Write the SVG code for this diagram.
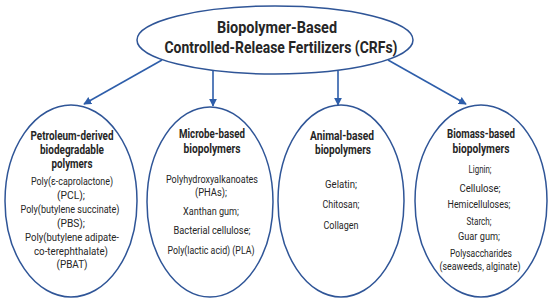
<svg xmlns="http://www.w3.org/2000/svg" width="550" height="302" viewBox="0 0 550 302">
<defs>
<style>
.node{fill:#fff;stroke:#2F5597;stroke-width:1.5}
.t{font-family:"Roboto","Liberation Sans",sans-serif;fill:#262626;text-anchor:middle}
.h{font-weight:bold;font-size:12.5px}
.b{font-size:11.5px}
.title{font-weight:bold;font-size:16.5px}
.conn{stroke:#2E5EAA;stroke-width:1.6;fill:none;marker-end:url(#ah)}
</style>
<marker id="ah" viewBox="0 0 10 10" refX="9" refY="5" markerWidth="5" markerHeight="5" orient="auto" markerUnits="strokeWidth">
<path d="M0,0 L10,5 L0,10 z" fill="#2E5EAA"/>
</marker>
</defs>
<rect width="550" height="302" fill="#fff"/>
<g id="connectors">
<line class="conn" x1="162" y1="60" x2="84" y2="104"/>
<line class="conn" x1="213" y1="71" x2="213" y2="106"/>
<line class="conn" x1="338" y1="71" x2="338" y2="105"/>
<line class="conn" x1="388" y1="60" x2="466" y2="104"/>
</g>
<g id="root">
<ellipse class="node" cx="275" cy="40" rx="138" ry="34"/>
<text class="t title" x="277" y="33" textLength="120" lengthAdjust="spacingAndGlyphs">Biopolymer-Based</text>
<text class="t title" x="281" y="53" textLength="233" lengthAdjust="spacingAndGlyphs">Controlled-Release Fertilizers (CRFs)</text>
</g>
<g id="petroleum">
<ellipse class="node" cx="71" cy="201" rx="66" ry="96"/>
<text class="t h" x="72" y="140" textLength="83" lengthAdjust="spacingAndGlyphs">Petroleum-derived</text>
<text class="t h" x="72" y="154" textLength="64" lengthAdjust="spacingAndGlyphs">biodegradable</text>
<text class="t h" x="72" y="168" textLength="41" lengthAdjust="spacingAndGlyphs">polymers</text>
<text class="t b" x="72" y="185" textLength="82" lengthAdjust="spacingAndGlyphs">Poly(ε-caprolactone)</text>
<text class="t b" x="71" y="199" textLength="28" lengthAdjust="spacingAndGlyphs">(PCL);</text>
<text class="t b" x="70" y="213" textLength="99" lengthAdjust="spacingAndGlyphs">Poly(butylene succinate)</text>
<text class="t b" x="71" y="227" textLength="28" lengthAdjust="spacingAndGlyphs">(PBS);</text>
<text class="t b" x="72" y="241" textLength="94" lengthAdjust="spacingAndGlyphs">Poly(butylene adipate-</text>
<text class="t b" x="71" y="255" textLength="74" lengthAdjust="spacingAndGlyphs">co-terephthalate)</text>
<text class="t b" x="72" y="268" textLength="31" lengthAdjust="spacingAndGlyphs">(PBAT)</text>
</g>
<g id="microbe">
<ellipse class="node" cx="210" cy="202" rx="63" ry="95"/>
<text class="t h" x="212" y="138" textLength="66" lengthAdjust="spacingAndGlyphs">Microbe-based</text>
<text class="t h" x="212" y="153" textLength="57" lengthAdjust="spacingAndGlyphs">biopolymers</text>
<text class="t b" x="212" y="183" textLength="92" lengthAdjust="spacingAndGlyphs">Polyhydroxyalkanoates</text>
<text class="t b" x="211" y="196" textLength="32" lengthAdjust="spacingAndGlyphs">(PHAs);</text>
<text class="t b" x="211" y="215" textLength="56" lengthAdjust="spacingAndGlyphs">Xanthan gum;</text>
<text class="t b" x="212" y="234" textLength="77" lengthAdjust="spacingAndGlyphs">Bacterial cellulose;</text>
<text class="t b" x="211" y="254" textLength="87" lengthAdjust="spacingAndGlyphs">Poly(lactic acid) (PLA)</text>
</g>
<g id="animal">
<ellipse class="node" cx="341" cy="201" rx="63" ry="96"/>
<text class="t h" x="342" y="140" textLength="64" lengthAdjust="spacingAndGlyphs">Animal-based</text>
<text class="t h" x="343" y="154" textLength="56" lengthAdjust="spacingAndGlyphs">biopolymers</text>
<text class="t b" x="341" y="188" textLength="32" lengthAdjust="spacingAndGlyphs">Gelatin;</text>
<text class="t b" x="341" y="208" textLength="37" lengthAdjust="spacingAndGlyphs">Chitosan;</text>
<text class="t b" x="341" y="229" textLength="35" lengthAdjust="spacingAndGlyphs">Collagen</text>
</g>
<g id="biomass">
<ellipse class="node" cx="481" cy="201" rx="66" ry="96"/>
<text class="t h" x="481" y="138" textLength="68" lengthAdjust="spacingAndGlyphs">Biomass-based</text>
<text class="t h" x="481" y="153" textLength="57" lengthAdjust="spacingAndGlyphs">biopolymers</text>
<text class="t b" x="480" y="173" textLength="23" lengthAdjust="spacingAndGlyphs">Lignin;</text>
<text class="t b" x="480" y="192" textLength="41" lengthAdjust="spacingAndGlyphs">Cellulose;</text>
<text class="t b" x="479" y="208" textLength="63" lengthAdjust="spacingAndGlyphs">Hemicelluloses;</text>
<text class="t b" x="479" y="225" textLength="25" lengthAdjust="spacingAndGlyphs">Starch;</text>
<text class="t b" x="479" y="240" textLength="42" lengthAdjust="spacingAndGlyphs">Guar gum;</text>
<text class="t b" x="481" y="257" textLength="62" lengthAdjust="spacingAndGlyphs">Polysaccharides</text>
<text class="t b" x="480" y="270" textLength="81" lengthAdjust="spacingAndGlyphs">(seaweeds, alginate)</text>
</g>
</svg>
